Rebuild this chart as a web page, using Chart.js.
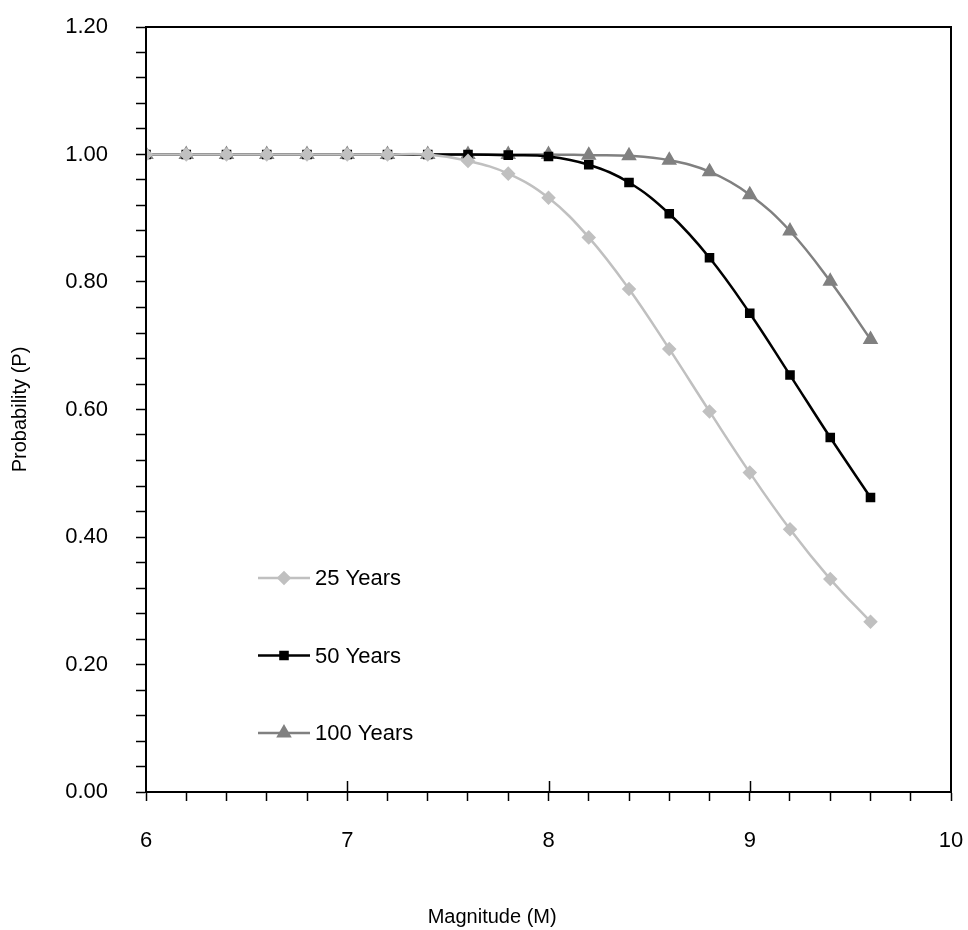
<!DOCTYPE html>
<html lang="en">
<head>
<meta charset="UTF-8">
<title>Probability vs Magnitude</title>
<script src="https://cdn.jsdelivr.net/npm/chart.js"></script>
<style>
  html, body { margin: 0; padding: 0; background: #fff; }
  #wrap { width: 968px; height: 930px; }
</style>
</head>
<body>
<div id="wrap"><canvas id="probChart" width="968" height="930"></canvas></div>
<script>
const magnitudes = [6.0, 6.2, 6.4, 6.6, 6.8, 7.0, 7.2, 7.4, 7.6, 7.8, 8.0, 8.2, 8.4, 8.6, 8.8, 9.0, 9.2, 9.4, 9.6];
const p25 = [1.00, 1.00, 1.00, 1.00, 1.00, 1.00, 1.00, 1.00, 0.990, 0.970, 0.932, 0.870, 0.789, 0.695, 0.597, 0.501, 0.412, 0.334, 0.267];
const p50 = [1.00, 1.00, 1.00, 1.00, 1.00, 1.00, 1.00, 1.00, 1.00, 0.999, 0.997, 0.984, 0.956, 0.907, 0.838, 0.751, 0.654, 0.556, 0.462];
const p100 = [1.00, 1.00, 1.00, 1.00, 1.00, 1.00, 1.00, 1.00, 1.00, 1.00, 1.00, 0.999, 0.998, 0.991, 0.973, 0.937, 0.880, 0.801, 0.710];
const seriesLabels = ['25 Years', '50 Years', '100 Years'];
const xTitle = 'Magnitude (M)';
const yTitle = 'Probability (P)';

const FONT = "'Liberation Sans', Arial, sans-serif";

function pts(ys) {
  return magnitudes.map((x, i) => ({ x: x, y: ys[i] }));
}

// box round the plot, small inside ticks at the whole magnitudes, x title
const frame = {
  id: 'frame',
  afterDraw(chart) {
    const { ctx, chartArea: a, scales } = chart;
    ctx.save();
    ctx.strokeStyle = '#000';
    ctx.lineWidth = 2;
    ctx.strokeRect(a.left, a.top, a.right - a.left, a.bottom - a.top);
    ctx.lineWidth = 1.5;
    for (let m = 7; m <= 9; m++) {
      const px = Math.round(scales.x.getPixelForValue(m)) + 0.5;
      ctx.beginPath();
      ctx.moveTo(px, a.bottom);
      ctx.lineTo(px, a.bottom - 11);
      ctx.stroke();
    }
    // x title sits a bit left of the plot centre in the original
    ctx.font = '20px ' + FONT;
    ctx.fillStyle = '#000';
    ctx.textAlign = 'center';
    ctx.textBaseline = 'middle';
    ctx.fillText(xTitle, scales.x.getPixelForValue(7.72), 917);
    ctx.restore();
  }
};

// legend drawn inside the plot, lower left
const innerLegend = {
  id: 'innerLegend',
  afterDraw(chart) {
    const { ctx, chartArea: a } = chart;
    ctx.save();
    ctx.font = '22px ' + FONT;
    ctx.textBaseline = 'middle';
    chart.data.datasets.forEach((ds, i) => {
      const y = a.bottom - 214 + i * 77.5;
      const x0 = a.left + 112;
      ctx.strokeStyle = ds.borderColor;
      ctx.lineWidth = ds.borderWidth;
      ctx.beginPath();
      ctx.moveTo(x0, y);
      ctx.lineTo(x0 + 52, y);
      ctx.stroke();
      Chart.helpers.drawPoint(ctx, {
        pointStyle: ds.pointStyle,
        radius: ds.pointRadius,
        borderWidth: 1,
        rotation: 0
      }, x0 + 26, y);
      ctx.fillStyle = ds.pointBackgroundColor;
      ctx.fill();
      ctx.fillStyle = '#000';
      ctx.fillText(ds.label, x0 + 57, y + 1);
    });
    ctx.restore();
  }
};

new Chart(document.getElementById('probChart').getContext('2d'), {
  type: 'line',
  data: {
    datasets: [
      {
        label: seriesLabels[0],
        data: pts(p25),
        borderColor: '#c0c0c0',
        backgroundColor: '#c0c0c0',
        pointBackgroundColor: '#c0c0c0',
        pointBorderColor: '#c0c0c0',
        pointStyle: 'rectRot',
        pointRadius: 5.5,
        borderWidth: 2.5,
        tension: 0.4
      },
      {
        label: seriesLabels[1],
        data: pts(p50),
        borderColor: '#000000',
        backgroundColor: '#000000',
        pointBackgroundColor: '#000000',
        pointBorderColor: '#000000',
        pointStyle: 'rect',
        pointRadius: 5,
        borderWidth: 2.5,
        tension: 0.4
      },
      {
        label: seriesLabels[2],
        data: pts(p100),
        borderColor: '#808080',
        backgroundColor: '#808080',
        pointBackgroundColor: '#808080',
        pointBorderColor: '#808080',
        pointStyle: 'triangle',
        pointRadius: 6.5,
        borderWidth: 2.5,
        tension: 0.4
      }
    ]
  },
  options: {
    responsive: false,
    animation: false,
    layout: { padding: { top: 27, right: 17, left: 0, bottom: 0 } },
    plugins: {
      legend: { display: false },
      tooltip: { enabled: false }
    },
    scales: {
      x: {
        type: 'linear',
        min: 6,
        max: 10,
        afterFit(scale) {
          scale.height = 138;
          scale.paddingLeft = 0;
          scale.paddingRight = 0;
        },
        border: { color: '#000', width: 2 },
        grid: { drawOnChartArea: false, drawTicks: true, tickLength: 9, tickColor: '#000', tickWidth: 1.5 },
        ticks: {
          stepSize: 0.2,
          autoSkip: false,
          maxRotation: 0,
          padding: 27,
          color: '#000',
          font: { family: FONT, size: 22 },
          callback(v) {
            const r = Math.round(v * 10) / 10;
            return Math.abs(r - Math.round(r)) < 1e-6 ? String(Math.round(r)) : '';
          }
        },
        title: { display: false }
      },
      y: {
        min: 0,
        max: 1.2,
        afterFit(scale) {
          scale.width = 146;
          scale.paddingTop = 0;
          scale.paddingBottom = 0;
        },
        border: { color: '#000', width: 2 },
        grid: {
          drawOnChartArea: false,
          drawTicks: true,
          tickLength: 10,
          tickColor: '#000',
          tickWidth: 1.5
        },
        ticks: {
          stepSize: 0.04,
          autoSkip: false,
          padding: 28,
          color: '#000',
          font: { family: FONT, size: 22 },
          callback(v) {
            const r = Math.round(v * 100) / 100;
            return Math.abs(r * 5 - Math.round(r * 5)) < 1e-6 ? r.toFixed(2) : '';
          }
        },
        title: {
          display: true,
          text: yTitle,
          color: '#000',
          font: { family: FONT, size: 20 },
          padding: { top: 8, bottom: 0 }
        }
      }
    }
  },
  plugins: [frame, innerLegend]
});
</script>
</body>
</html>
